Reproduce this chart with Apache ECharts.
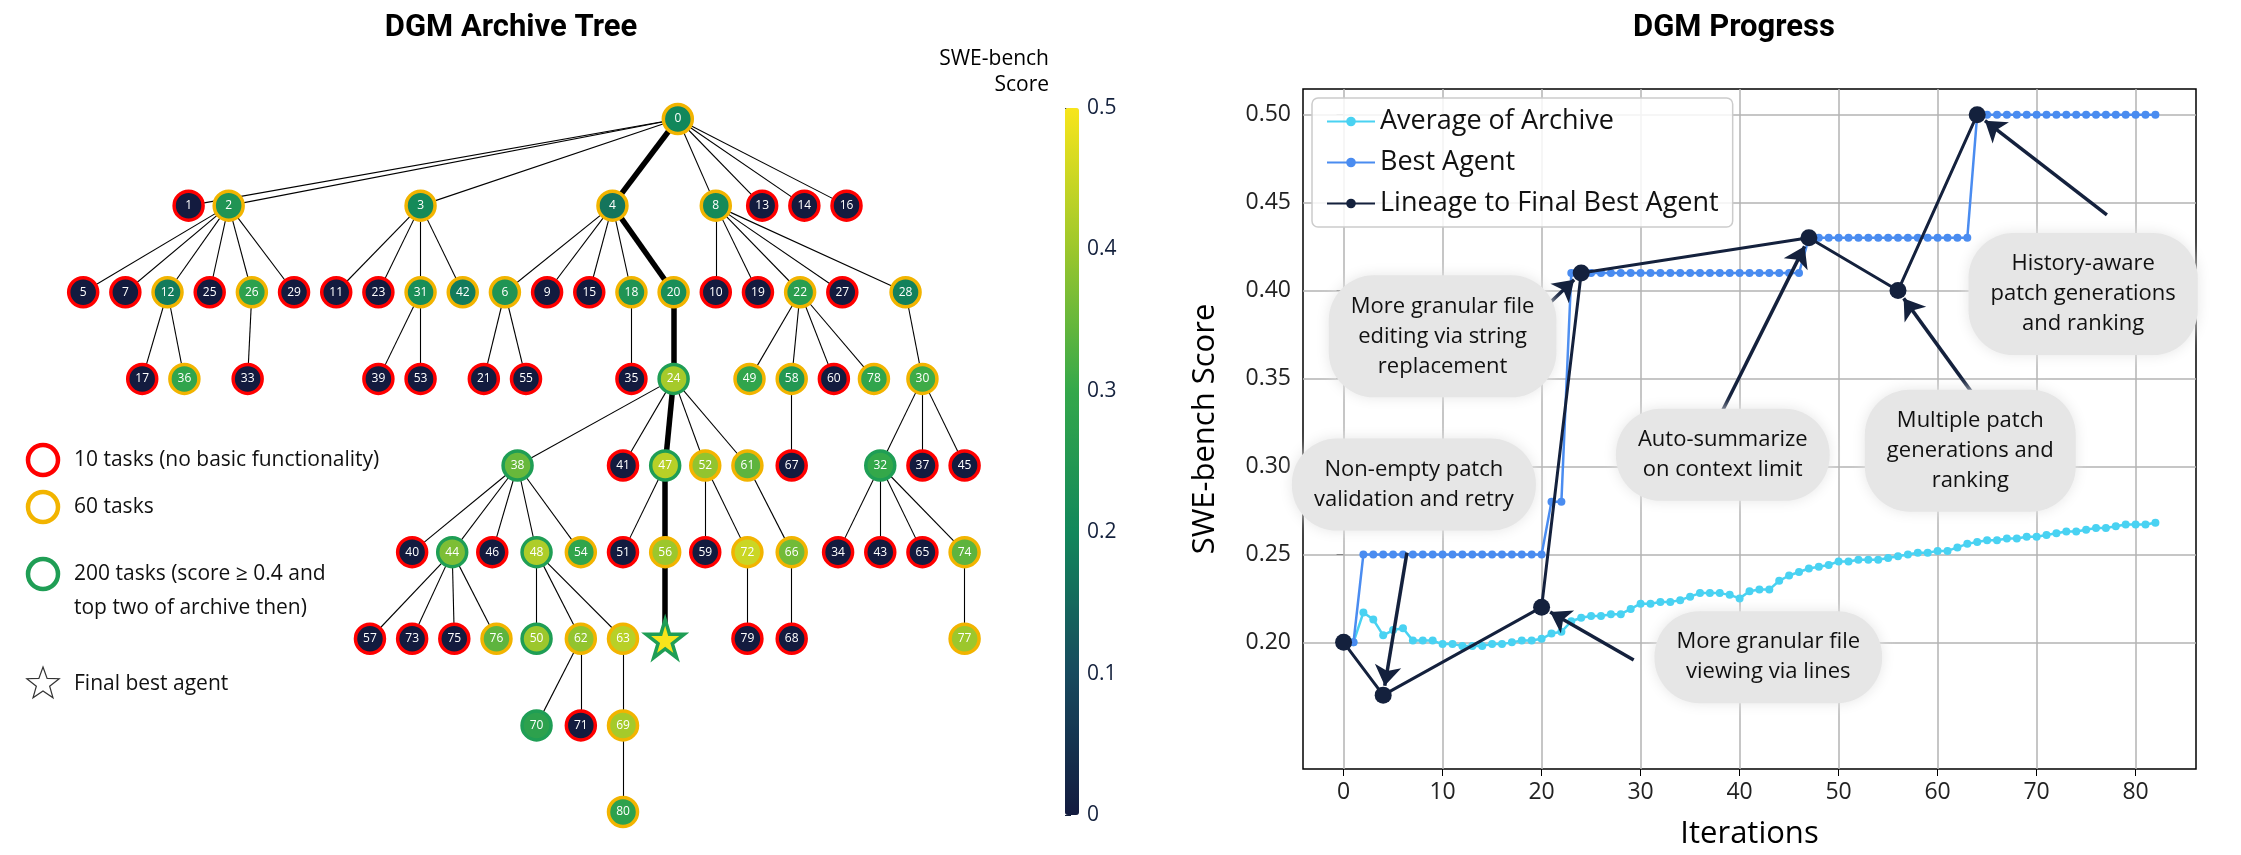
<!DOCTYPE html>
<html><head><meta charset="utf-8">
<script src="https://cdn.jsdelivr.net/npm/echarts@6/dist/echarts.min.js"></script>
<style>html,body{margin:0;padding:0;background:#fff}#c{width:2241px;height:855px}</style>
</head><body><div id="c"></div>
<script>
// ---- Tree data: [id, parent, slot, depth, score, tier] tier: 10/60/200
const treeNodes = [
 ['0',null,14.1,0,0.20,60],
 ['1','0',2.5,1,0,10],['2','0',3.45,1,0.24,60],['3','0',8,1,0.21,60],['4','0',12.55,1,0.17,60],
 ['8','0',15,1,0.21,60],['13','0',16.1,1,0,10],['14','0',17.1,1,0,10],['16','0',18.1,1,0,10],
 ['5','2',0,2,0,10],['7','2',1,2,0,10],['12','2',2,2,0.18,60],['25','2',3,2,0,10],['26','2',4,2,0.28,60],['29','2',5,2,0,10],
 ['11','3',6,2,0,10],['23','3',7,2,0,10],['31','3',8,2,0.22,60],['42','3',9,2,0.18,60],
 ['6','4',10,2,0.24,60],['9','4',11,2,0,10],['15','4',12,2,0,10],['18','4',13,2,0.24,60],['20','4',14,2,0.22,60],
 ['10','8',15,2,0,10],['19','8',16,2,0,10],['22','8',17,2,0.27,60],['27','8',18,2,0,10],['28','8',19.5,2,0.19,60],
 ['17','12',1.4,3,0,10],['36','12',2.4,3,0.29,60],['33','26',3.9,3,0,10],['39','31',7,3,0,10],['53','31',8,3,0,10],
 ['21','6',9.5,3,0,10],['55','6',10.5,3,0,10],['35','18',13,3,0,10],['24','20',14,3,0.41,200],
 ['49','22',15.8,3,0.29,60],['58','22',16.8,3,0.25,60],['60','22',17.8,3,0,10],['78','22',18.75,3,0.29,60],['30','28',19.9,3,0.31,60],
 ['38','24',10.3,4,0.35,200],['41','24',12.8,4,0,10],['47','24',13.8,4,0.43,200],['52','24',14.75,4,0.39,60],['61','24',15.75,4,0.34,60],
 ['67','58',16.8,4,0,10],['32','30',18.9,4,0.30,200],['37','30',19.9,4,0,10],['45','30',20.9,4,0,10],
 ['40','38',7.8,5,0,10],['44','38',8.75,5,0.37,200],['46','38',9.7,5,0,10],['48','38',10.75,5,0.42,200],['54','38',11.8,5,0.29,60],
 ['51','47',12.8,5,0,10],['56','47',13.8,5,0.40,60],['59','52',14.75,5,0,10],['72','52',15.75,5,0.45,60],['66','61',16.8,5,0.36,60],
 ['34','32',17.9,5,0,10],['43','32',18.9,5,0,10],['65','32',19.9,5,0,10],['74','32',20.9,5,0.34,60],
 ['57','44',6.8,6,0,10],['73','44',7.8,6,0,10],['75','44',8.8,6,0,10],['76','44',9.8,6,0.34,60],
 ['50','48',10.75,6,0.40,200],['62','48',11.8,6,0.39,60],['63','48',12.8,6,0.43,60],['best','56',13.8,6,0.50,200],
 ['79','72',15.75,6,0,10],['68','66',16.8,6,0,10],['77','74',20.9,6,0.40,60],
 ['70','62',10.75,7,0.28,200],['71','62',11.8,7,0,10],['69','63',12.8,7,0.41,60],
 ['80','69',12.8,8,0.28,60]
];
const lineageIds = ['0','4','20','24','47','56','best'];

// ---- Progress data
const iterations = Array.from({length:83},(_, i)=>i);
const bestAgent = [0.20,0.20,0.25,0.25,0.25,0.25,0.25,0.25,0.25,0.25,0.25,0.25,0.25,0.25,0.25,0.25,0.25,0.25,0.25,0.25,0.25,0.28,0.28,
 0.41,0.41,0.41,0.41,0.41,0.41,0.41,0.41,0.41,0.41,0.41,0.41,0.41,0.41,0.41,0.41,0.41,0.41,0.41,0.41,0.41,0.41,0.41,0.41,
 0.43,0.43,0.43,0.43,0.43,0.43,0.43,0.43,0.43,0.43,0.43,0.43,0.43,0.43,0.43,0.43,0.43,
 0.50,0.50,0.50,0.50,0.50,0.50,0.50,0.50,0.50,0.50,0.50,0.50,0.50,0.50,0.50,0.50,0.50,0.50,0.50];
const avgArchive = [0.200,0.200,0.217,0.213,0.204,0.207,0.208,0.201,0.201,0.201,0.199,0.199,0.198,0.198,0.198,0.199,0.199,0.200,0.201,0.201,
 0.202,0.205,0.206,0.212,0.214,0.215,0.215,0.216,0.216,0.219,0.222,0.222,0.223,0.223,0.224,0.226,0.228,0.228,0.228,0.227,
 0.225,0.229,0.230,0.230,0.235,0.238,0.240,0.242,0.243,0.244,0.246,0.246,0.247,0.247,0.247,0.248,0.249,0.250,0.251,0.251,
 0.252,0.252,0.254,0.256,0.257,0.258,0.258,0.259,0.259,0.260,0.260,0.261,0.262,0.263,0.263,0.264,0.265,0.265,0.266,0.267,0.267,0.267,0.268];
const lineageIter = [0,4,20,24,47,56,64];
const lineageScore = [0.20,0.17,0.22,0.41,0.43,0.40,0.50];
const xTicks = [0,10,20,30,40,50,60,70,80];
const yTicks = [0.20,0.25,0.30,0.35,0.40,0.45,0.50];
// annotations: text, box center [x,y], arrow start [x,y], arrow target index in lineage
const notes = [
 ['Non-empty patch\nvalidation and retry',[7.1,0.2897],[6.4,0.251],1],
 ['More granular file\nediting via string\nreplacement',[10,0.374],[19.7,0.387],3],
 ['Auto-summarize\non context limit',[38.3,0.3066],[38.3,0.332],4],
 ['Multiple patch\ngenerations and\nranking',[63.3,0.309],[63.6,0.341],5],
 ['History-aware\npatch generations\nand ranking',[74.7,0.398],[77.1,0.443],6],
 ['More granular file\nviewing via lines',[42.9,0.1916],[29.3,0.19],2]
];
const tierColor = {10:'#ff0000',60:'#f2b400',200:'#1f9e55'};
const palette = ['#131b3f','#174a5e','#12875b','#34a84a','#9cc72c','#f8e51b'];

const chart = echarts.init(document.getElementById('c'));
const navy = '#14213d';
const FONT = 'Open Sans';
const STAR = 'path://M50,0 L61,35 L98,35 L68,57 L79,91 L50,70 L21,91 L32,57 L2,35 L39,35 Z';
function starPts(cx,cy,R,r){const p=[];for(let i=0;i<10;i++){const a=-Math.PI/2+i*Math.PI/5;const rr=i%2?r:R;p.push([cx+rr*Math.cos(a),cy+rr*Math.sin(a)]);}return p;}

const gNodes = treeNodes.map(n=>({
  name:n[0], value:[n[2],n[3],n[4]],
  symbol: n[0]==='best' ? STAR : 'circle',
  symbolSize: n[0]==='best' ? 38 : 29,
  itemStyle:{color:echarts.color.lerp(n[4]/0.5,palette), borderColor:tierColor[n[5]], borderWidth:3.5},
  label:{show:n[0]!=='best'}
}));
const gLinks = treeNodes.filter(n=>n[1]!==null).map(n=>{
  const thick = lineageIds.includes(n[0]) && lineageIds.includes(n[1]);
  return {source:n[1], target:n[0], lineStyle:{width: thick?5.5:1.1, color:'#000'}};
});

// arrow end stops ~10px short of the point centre (grid scale: 893px/90.2 units, 718px/0.3866)
const PX = 893/90.2, PY = 718/0.3866;
function arrowEnd(s,t){const dx=(t[0]-s[0])*PX, dy=(t[1]-s[1])*PY; const L=Math.hypot(dx,dy); const k=(L-10)/L; return [s[0]+(t[0]-s[0])*k, s[1]+(t[1]-s[1])*k];}

const grey='#b3b3b3';
const gridLines = xTicks.map(v=>({xAxis:v})).concat(yTicks.map(v=>({yAxis:v})));
chart.setOption({
  animation:false,
  textStyle:{fontFamily:FONT},
  title:[
    {text:'DGM Archive Tree',left:506,top:8,textAlign:'center',textStyle:{fontSize:31,fontWeight:'bold',color:'#000',fontFamily:'Roboto'}},
    {text:'DGM Progress',left:1729,top:8,textAlign:'center',textStyle:{fontSize:31,fontWeight:'bold',color:'#000',fontFamily:'Roboto'}}
  ],
  grid:[
    {left:41,top:119,width:970,height:693,show:false},
    {left:1303,top:89,width:893,height:718,show:true,borderColor:'#000',borderWidth:1.5},
    {left:1065,top:108,width:14,height:707,show:false}
  ],
  xAxis:[
    {gridIndex:0,type:'value',min:-1,max:22,show:false},
    {gridIndex:1,type:'value',min:-4.1,max:86.1,
      axisLabel:{fontSize:23,color:'#222',margin:12,customValues:xTicks},
      axisTick:{show:true,length:7,lineStyle:{color:'#000'},customValues:xTicks},
      axisLine:{show:false},splitLine:{show:false},
      name:'Iterations',nameLocation:'middle',nameGap:50,nameTextStyle:{fontSize:31,color:'#000'}},
    {gridIndex:2,type:'value',show:false,min:0,max:1}
  ],
  yAxis:[
    {gridIndex:0,type:'value',min:0,max:8,inverse:true,show:false},
    {gridIndex:1,type:'value',min:0.128,max:0.5146,
      axisLabel:{fontSize:23,color:'#222',margin:12,customValues:yTicks,formatter:v=>v.toFixed(2)},
      axisTick:{show:true,length:7,lineStyle:{color:'#000'},customValues:yTicks},
      axisLine:{show:false},splitLine:{show:false},
      name:'SWE-bench Score',nameLocation:'middle',nameGap:82,nameTextStyle:{fontSize:31,color:'#000'}},
    {gridIndex:2,type:'value',min:0,max:0.5,interval:0.1,position:'right',
      axisLine:{show:false},axisTick:{show:true,length:6,lineStyle:{color:navy}},
      axisLabel:{fontSize:21,color:navy,margin:8},splitLine:{show:false},
      name:'SWE-bench\nScore',nameLocation:'end',nameGap:10,
      nameTextStyle:{fontSize:21,color:'#000',align:'right',lineHeight:26,padding:[0,16,0,0]}}
  ],
  visualMap:{
    type:'continuous',seriesIndex:4,min:0,max:0.5,padding:0,
    left:1065,top:108,itemWidth:14,itemHeight:707,calculable:false,text:['',''],showLabel:false,
    inRange:{color:palette}
  },
  legend:{
    data:['Average of Archive','Best Agent','Lineage to Final Best Agent'],
    orient:'vertical',left:1312,top:98,itemGap:14,itemWidth:48,itemHeight:12,
    backgroundColor:'rgba(255,255,255,0.85)',borderColor:'#ccc',borderWidth:1.5,borderRadius:6,padding:[10,14],
    textStyle:{fontSize:27,color:'#111'}
  },
  series:[
    {type:'graph',coordinateSystem:'cartesian2d',xAxisIndex:0,yAxisIndex:0,
      data:gNodes,links:gLinks,z:3,
      label:{show:true,position:'inside',color:'#fff',fontSize:12,formatter:p=>p.name==='best'?'':p.name},
      lineStyle:{color:'#000',width:1,opacity:1},emphasis:{disabled:true}},
    {name:'Average of Archive',type:'line',xAxisIndex:1,yAxisIndex:1,data:iterations.map((x,i)=>[x,avgArchive[i]]),
      color:'#49d2f2',symbol:'circle',symbolSize:8,lineStyle:{width:2.5},z:3,
      markLine:{silent:true,symbol:'none',label:{show:false},lineStyle:{color:grey,width:1.5,type:'solid'},z:1,data:gridLines}},
    {name:'Best Agent',type:'line',xAxisIndex:1,yAxisIndex:1,data:iterations.map((x,i)=>[x,bestAgent[i]]),
      color:'#4a8cf0',symbol:'circle',symbolSize:8,lineStyle:{width:2.5},z:4},
    {name:'Lineage to Final Best Agent',type:'line',xAxisIndex:1,yAxisIndex:1,data:lineageIter.map((x,i)=>[x,lineageScore[i]]),
      color:navy,symbol:'circle',symbolSize:17,lineStyle:{width:3},z:5,
      markPoint:{silent:true,symbol:'rect',symbolSize:0,
        data:notes.map(n=>({coord:n[1],value:n[0]})),
        label:{show:true,position:'inside',formatter:p=>p.value,color:'#111',fontSize:22,lineHeight:30,fontFamily:FONT,
          backgroundColor:'#e6e6e6',borderRadius:45,padding:[16,22],shadowBlur:14,shadowColor:'#e6e6e6'}}},
    {type:'scatter',xAxisIndex:2,yAxisIndex:2,data:[]},
    {type:'line',xAxisIndex:1,yAxisIndex:1,data:[],z:8,
      markLine:{silent:true,symbol:['none','arrow'],symbolSize:20,label:{show:false},
        lineStyle:{color:navy,width:3.5,type:'solid'},itemStyle:{color:navy},
        data:notes.map(n=>[{coord:n[2],symbol:'none'},{coord:arrowEnd(n[2],[lineageIter[n[3]],lineageScore[n[3]]]),symbol:'arrow',symbolSize:20}])}}
  ],
  graphic:[
    {type:'circle',shape:{cx:43,cy:460,r:15},style:{fill:'#fff',stroke:'#ff0000',lineWidth:4.5}},
    {type:'circle',shape:{cx:43,cy:507,r:15},style:{fill:'#fff',stroke:'#f2b400',lineWidth:4.5}},
    {type:'circle',shape:{cx:43,cy:574,r:15},style:{fill:'#fff',stroke:'#1f9e55',lineWidth:4.5}},
    {type:'polygon',shape:{points:starPts(43,684,17,7)},style:{fill:'#fff',stroke:'#333',lineWidth:1.2}},
    {type:'text',x:74,y:460,style:{text:'10 tasks (no basic functionality)',fontSize:21,fill:'#111',verticalAlign:'middle',fontFamily:FONT}},
    {type:'text',x:74,y:507,style:{text:'60 tasks',fontSize:21,fill:'#111',verticalAlign:'middle',fontFamily:FONT}},
    {type:'text',x:74,y:557,style:{text:'200 tasks (score ≥ 0.4 and\ntop two of archive then)',fontSize:21,lineHeight:34,fill:'#111',verticalAlign:'top',fontFamily:FONT}},
    {type:'text',x:74,y:684,style:{text:'Final best agent',fontSize:21,fill:'#111',verticalAlign:'middle',fontFamily:FONT}}
  ]
});
</script></body></html>
